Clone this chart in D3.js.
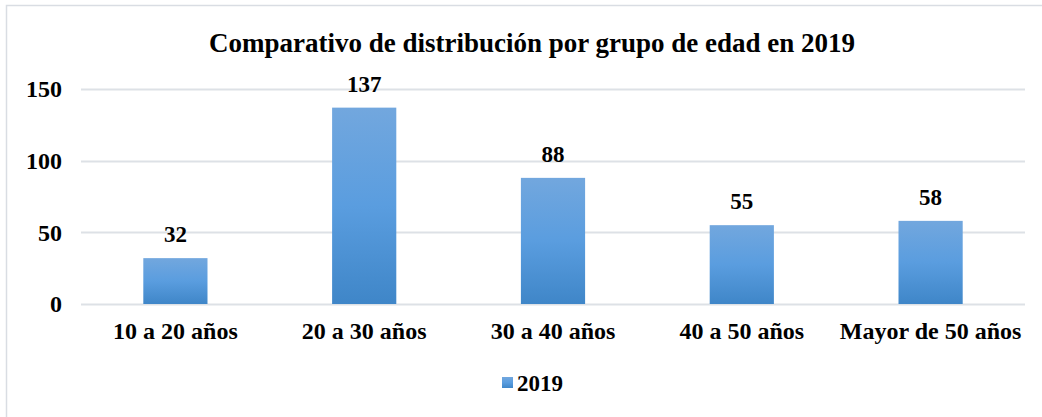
<!DOCTYPE html>
<html>
<head>
<meta charset="utf-8">
<script src="https://cdn.jsdelivr.net/npm/d3@7"></script>
<style>
  html, body { margin: 0; padding: 0; background: #fff; }
</style>
</head>
<body>
<svg id="chart" width="1042" height="417"></svg>
<script>
// Chart data
const categories = ['10 a 20 años', '20 a 30 años', '30 a 40 años', '40 a 50 años', 'Mayor de 50 años'];
const values2019 = [32, 137, 88, 55, 58];
const yTicks = [0, 50, 100, 150];
const seriesName = '2019';
const title = 'Comparativo de distribución por grupo de edad en 2019';

const FONT = '"Liberation Serif"';
const svg = d3.select('#chart');
const width = 1042, height = 417;
const margin = { top: 89, right: 17, bottom: 113, left: 81 };

// Outer chart border (only top and left edges fall inside the image)
svg.append('rect')
  .attr('x', 6.5).attr('y', 5.5)
  .attr('width', width + 10).attr('height', height + 10)
  .attr('fill', 'none')
  .attr('stroke', '#d9dde3')
  .attr('stroke-width', 1.5);

const defs = svg.append('defs');
const grad = defs.append('linearGradient')
  .attr('id', 'barGrad')
  .attr('x1', 0).attr('y1', 0).attr('x2', 0).attr('y2', 1);
grad.append('stop').attr('offset', '0%').attr('stop-color', '#72a7de');
grad.append('stop').attr('offset', '50%').attr('stop-color', '#5a9ddf');
grad.append('stop').attr('offset', '100%').attr('stop-color', '#3f86c8');

const x = d3.scaleBand()
  .domain(categories)
  .range([margin.left, width - margin.right])
  .paddingInner(0.66)
  .paddingOuter(0.33);

const y = d3.scaleLinear()
  .domain([0, 150])
  .range([height - margin.bottom, margin.top]);

// Gridlines
svg.append('g')
  .selectAll('line')
  .data(yTicks)
  .join('line')
  .attr('x1', margin.left)
  .attr('x2', width - margin.right)
  .attr('y1', d => Math.round(y(d)) + 0.5)
  .attr('y2', d => Math.round(y(d)) + 0.5)
  .attr('stroke', '#dde1e6')
  .attr('stroke-width', 2);

// Y axis labels
const yAxis = d3.axisLeft(y).tickValues(yTicks).tickSize(0).tickPadding(19);
svg.append('g')
  .attr('transform', `translate(${margin.left},0)`)
  .call(yAxis)
  .attr('font-family', FONT)
  .attr('font-weight', 'bold')
  .attr('font-size', 24)
  .call(g => g.select('.domain').remove())
  .call(g => g.selectAll('text').attr('fill', '#000'));

// X axis labels
const xAxis = d3.axisBottom(x).tickSize(0).tickPadding(18);
svg.append('g')
  .attr('transform', `translate(0,${y(0)})`)
  .call(xAxis)
  .attr('font-family', FONT)
  .attr('font-weight', 'bold')
  .attr('font-size', 24)
  .call(g => g.select('.domain').remove())
  .call(g => g.selectAll('text').attr('fill', '#000'));

// Bars
svg.append('g')
  .selectAll('rect')
  .data(values2019)
  .join('rect')
  .attr('x', (d, i) => x(categories[i]))
  .attr('y', d => y(d))
  .attr('width', x.bandwidth())
  .attr('height', d => y(0) - y(d))
  .attr('fill', 'url(#barGrad)');

// Data labels
svg.append('g')
  .attr('font-family', FONT)
  .attr('font-weight', 'bold')
  .attr('font-size', 23)
  .selectAll('text')
  .data(values2019)
  .join('text')
  .attr('x', (d, i) => x(categories[i]) + x.bandwidth() / 2)
  .attr('y', d => y(d) - 16)
  .attr('text-anchor', 'middle')
  .attr('fill', '#000')
  .text(d => d);

// Title
svg.append('text')
  .attr('x', 532)
  .attr('y', 52)
  .attr('text-anchor', 'middle')
  .attr('font-family', FONT)
  .attr('font-weight', 'bold')
  .attr('font-size', 27)
  .attr('fill', '#000')
  .text(title);

// Legend
const legend = svg.append('g').attr('transform', 'translate(502,377)');
legend.append('rect')
  .attr('width', 11).attr('height', 11)
  .attr('fill', 'url(#barGrad)');
legend.append('text')
  .attr('x', 15)
  .attr('y', 14)
  .attr('font-family', FONT)
  .attr('font-weight', 'bold')
  .attr('font-size', 23)
  .attr('fill', '#000')
  .text(seriesName);
</script>
</body>
</html>
